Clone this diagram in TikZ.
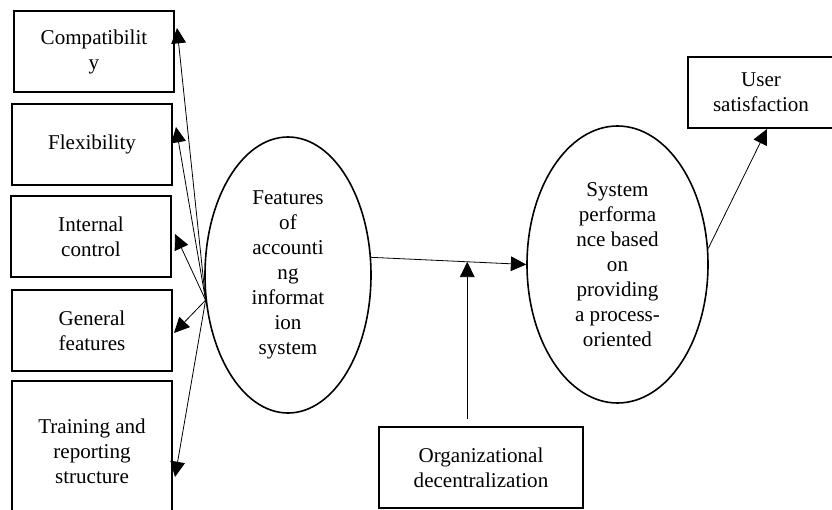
\documentclass[tikz,border=0pt]{standalone}
\usepackage{fontspec}
\setmainfont{Liberation Serif}
\usetikzlibrary{shapes.geometric,calc,arrows.meta}
\tikzset{
  box/.style={
      draw,
      line width=1.5pt,
      rectangle,
      align=center,
      inner sep=0pt,
      minimum width=120pt,
      minimum height=60.75pt,
      font=\fontsize{15.8}{18.75}\selectfont
  },
  oval/.style={
      draw,
      line width=1.2pt,
      ellipse,
      align=center,
      inner sep=0pt,
      font=\fontsize{15.8}{18.75}\selectfont
  },
  arr/.style={
      -{Triangle[length=11.5pt,width=11pt]},
      line width=0.6pt
  }
}
\begin{document}
\begin{tikzpicture}[x=0.75pt,y=-0.75pt]
	\useasboundingbox (0,0) rectangle (832,510);
	% factors on the left
	\node[box] (compat) at (94,51.5) {Compatibilit\\y};
	\node[box] (flex) at (92,144.5) {Flexibility};
	\node[box] (intctrl) at (91,236.5) {Internal\\control};
	\node[box] (general) at (92,330.5) {General\\features};
	\node[box,minimum height=105pt] (training) at (92,451) {Training and\\reporting\\structure};
	% main constructs
	\node[oval,minimum width=124.5pt,minimum height=207pt] (feat) at (288,275)
		{Features\\of\\accounti\\ng\\informat\\ion\\system};
	\node[oval,minimum width=135.75pt,minimum height=207.75pt] (sys) at (617.5,264.5)
		{System\\performa\\nce based\\on\\providing\\a process-\\oriented};
	\node[box,minimum width=109.5pt,minimum height=53.25pt] (user) at (761,92.5) {User\\satisfaction};
	\node[box,minimum width=153pt] (org) at (481,467.5) {Organizational\\decentralization};
	% connectors
	\coordinate (hub) at (feat.197);
	\draw[arr] (hub) -- ($(compat.east)+(2,-23.5)$);
	\draw[arr] (hub) -- ($(flex.east)+(3,-17.5)$);
	\draw[arr] (hub) -- ($(intctrl.east)+(3,-2.5)$);
	\draw[arr] (hub) -- ($(general.east)+(1,2.5)$);
	\draw[arr] (hub) -- ($(training.east)+(2,26)$);
	\draw[arr] (feat.12) -- (sys.west);
	\coordinate (mod) at ($(feat.12)!0.62!(sys.west)$);
	\draw[arr] ($(org.north -| mod)+(0,-7)$) -- (mod);
	\draw[arr] (sys.10) -- ($(user.south)+(6,0)$);
\end{tikzpicture}
\end{document}
